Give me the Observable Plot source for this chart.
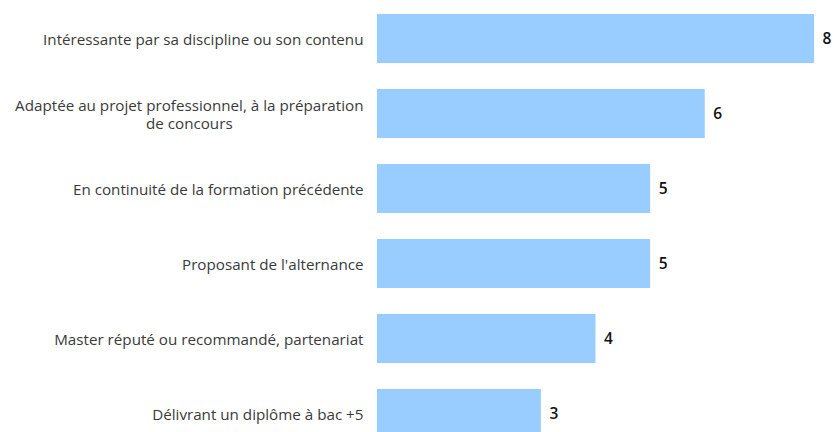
<!DOCTYPE html>
<html><head><meta charset="utf-8">
<script src="https://cdn.jsdelivr.net/npm/d3@7"></script>
<script src="https://cdn.jsdelivr.net/npm/@observablehq/plot@0.6"></script>
<style>
html,body{margin:0;padding:0;background:#fff;overflow:hidden;}
#chart{width:834px;height:432px;overflow:hidden;}
</style></head>
<body><div id="chart"></div>
<script>
const categories = [
  "Intéressante par sa discipline ou son contenu",
  "Adaptée au projet professionnel, à la préparation\nde concours",
  "En continuité de la formation précédente",
  "Proposant de l'alternance",
  "Master réputé ou recommandé, partenariat",
  "Délivrant un diplôme à bac +5"
];
const values = [8, 6, 5, 5, 4, 3];
const data = categories.map((c, i) => ({category: c, value: values[i]}));

const chart = Plot.plot({
  width: 834,
  height: 452,
  marginLeft: 377,
  marginRight: 20,
  marginTop: 0,
  marginBottom: 0,
  style: {fontFamily: "'Open Sans', sans-serif", background: "#fff"},
  x: {domain: [0, 8], axis: null},
  y: {domain: categories, paddingInner: 0.35, paddingOuter: 0.175, label: null},
  marks: [
    Plot.axisY({tickSize: 0, tickPadding: 14, fontSize: 15.2, fill: "#3a3a3a", label: null, lineWidth: 100, lineHeight: 1.2}),
    Plot.barX(data, {x: "value", y: "category", fill: "#99ccff"}),
    Plot.text(data, {x: "value", y: "category", text: d => String(d.value), textAnchor: "start", dx: 8, fontSize: 15.5, fontWeight: 600, fill: "#111"})
  ]
});
document.getElementById("chart").appendChild(chart);
// center multi-line labels within their block (block stays right-aligned)
chart.querySelectorAll("text").forEach(t => {
  const spans = t.querySelectorAll("tspan");
  if (spans.length > 1) {
    const w = t.getBBox().width;
    t.setAttribute("text-anchor", "middle");
    spans.forEach(s => s.setAttribute("x", (parseFloat(s.getAttribute("x") || 0) - w / 2)));
  }
});
</script></body></html>
